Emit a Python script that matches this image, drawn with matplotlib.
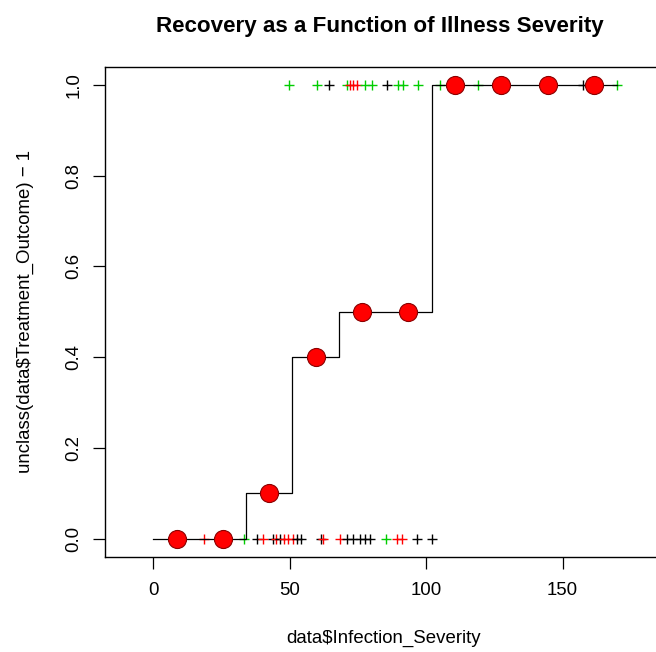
import matplotlib
matplotlib.use("Agg")
import matplotlib.pyplot as plt
import numpy as np

# Patients who did not recover (outcome 0): severity and group colour
sev_no = [18.4, 33.2, 38.1, 40.1, 44.0, 45.0, 46.4, 47.8, 49.5, 51.1, 52.5, 54.0,
          61.5, 62.3, 68.4, 70.9, 73.3, 75.8, 77.6, 79.4, 85.3, 89.2, 91.0, 96.7, 102.0]
grp_no = ["red", "green", "black", "red", "black", "red", "black", "red", "red", "red",
          "black", "black", "black", "red", "red", "black", "black", "black", "black",
          "black", "green", "red", "red", "black", "black"]

# Patients who recovered (outcome 1)
sev_yes = [49.6, 59.9, 64.5, 71.1, 72.1, 73.3, 74.8, 77.6, 80.0, 85.5, 89.8, 91.4,
           97.1, 105.1, 119.1, 157.6, 169.8]
grp_yes = ["green", "green", "black", "green", "red", "red", "red", "green", "green",
           "black", "green", "green", "green", "green", "green", "black", "green"]

# Severity bins and the recovery rate inside each bin
bin_edges = [0, 17, 34, 51, 68, 85, 102, 119, 136, 153, 170]
bin_mid = [8.5, 25.5, 42.5, 59.5, 76.5, 93.5, 110.5, 127.5, 144.5, 161.5]
bin_rate = [0.0, 0.0, 0.1, 0.4, 0.5, 0.5, 1.0, 1.0, 1.0, 1.0]

x_ticks = [0, 50, 100, 150]
y_ticks = [0.0, 0.2, 0.4, 0.6, 0.8, 1.0]

palette = {"black": "#000000", "red": "#FF0000", "green": "#00CD00"}

W, H = 656, 652
plt.rcParams["font.family"] = ["Liberation Sans", "DejaVu Sans"]
fig = plt.figure(figsize=(W / 100, H / 100), dpi=100)

left, top, right, bottom = 105.3, 66.7, 663.0, 556.7
ax = fig.add_axes([left / W, 1 - bottom / H, (right - left) / W, (bottom - top) / H])
ax.set_xlim(-17.6, 186.8)
ax.set_ylim(-0.04, 1.04)

# raw observations as plus marks
for xs, gs, yv in ((sev_no, grp_no, 0.0), (sev_yes, grp_yes, 1.0)):
    for xv, g in zip(xs, gs):
        ax.plot([xv], [yv], marker="+", ms=7.5, mew=1.0, color=palette[g],
                linestyle="none", zorder=2)

# step function of bin rates
step_y = bin_rate + [bin_rate[-1]]
ax.step(bin_edges, step_y, where="post", color="black", lw=0.9, zorder=3)

# bin rate points
ax.plot(bin_mid, bin_rate, marker="o", ms=13, mfc="#FF0000", mec="#8B0000",
        mew=0.8, linestyle="none", zorder=4)

for s in ax.spines.values():
    s.set_linewidth(1.0)
    s.set_color("black")

ax.set_xticks(x_ticks)
ax.set_xticklabels([str(v) for v in x_ticks])
ax.set_yticks(y_ticks)
ax.set_yticklabels([f"{v:.1f}" for v in y_ticks], rotation=90, va="center")
ax.tick_params(axis="both", length=8.6, width=0.9, labelsize=13.4, direction="out")
ax.tick_params(axis="x", pad=9.5)
ax.tick_params(axis="y", pad=8.0)

fs = 13.4
fig.text(380 / W, 1 - 31.7 / H, "Recovery as a Function of Illness Severity",
         ha="center", va="baseline", fontsize=16.1, fontweight="bold")
fig.text(384 / W, 1 - 643.3 / H, "data$Infection_Severity",
         ha="center", va="baseline", fontsize=fs)
fig.text(30.3 / W, 1 - 311.7 / H, "unclass(data$Treatment_Outcome) \u2212 1",
         ha="center", va="baseline", rotation=90, rotation_mode="anchor", fontsize=fs)

fig.savefig("out.png", dpi=100)
